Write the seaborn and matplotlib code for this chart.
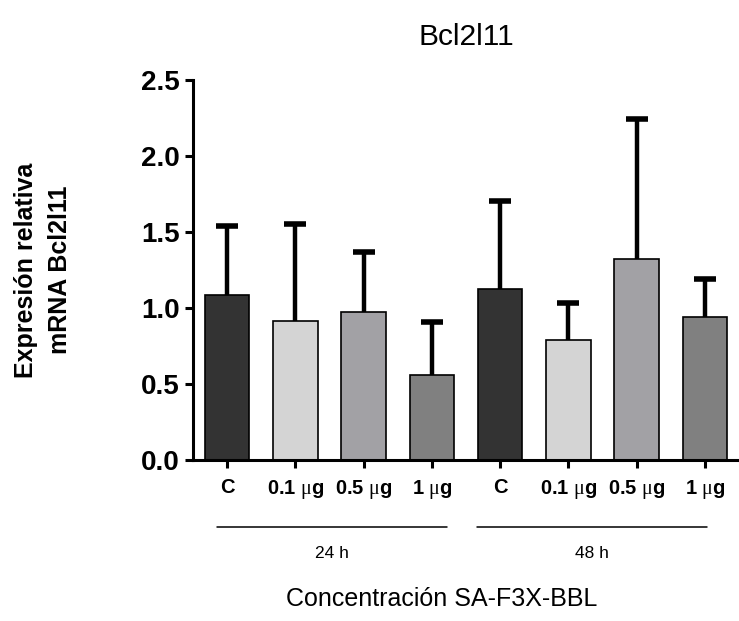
import numpy as np
import pandas as pd
import seaborn as sns
import matplotlib.pyplot as plt
from matplotlib import transforms

# data
groups = ["24 h", "48 h"]
doses = ["C", "0.1 $\\mathrm{\\mu}$g", "0.5 $\\mathrm{\\mu}$g", "1 $\\mathrm{\\mu}$g"]
means = [1.085, 0.914, 0.974, 0.557, 1.123, 0.792, 1.320, 0.941]
sds = [0.455, 0.640, 0.394, 0.353, 0.583, 0.241, 0.925, 0.250]
bar_colors = ["#333333", "#d4d4d4", "#a2a1a5", "#808080"] * 2

sns.set_style("ticks")
plt.rcParams['font.family'] = ['Liberation Sans', 'DejaVu Sans']
plt.rcParams['mathtext.fontset'] = 'custom'
plt.rcParams['mathtext.rm'] = 'Liberation Serif'
plt.rcParams['text.color'] = 'black'
plt.rcParams['axes.labelcolor'] = 'black'
plt.rcParams['xtick.color'] = 'black'
plt.rcParams['ytick.color'] = 'black'

df = pd.DataFrame({
    "cond": [g + " " + d for g in groups for d in doses],
    "mean": means,
})

fig = plt.figure(figsize=(7.39, 6.21), dpi=100)
ax = fig.add_axes([193 / 739, 161 / 621, 546 / 739, 380 / 621])

sns.barplot(data=df, x="cond", y="mean", hue="cond", palette=bar_colors,
            legend=False, width=0.65, edgecolor="black", linewidth=1.2,
            saturation=1, ax=ax)

# upper error bars only, no cap at the bar top
x = np.arange(len(means))
tops = np.array(means) + np.array(sds)
ax.vlines(x, means, tops, color="black", lw=3.2, zorder=5)
ax.hlines(tops, x - 0.16, x + 0.16, color="black", lw=4.0, zorder=5)

ax.set_xlim(-0.5, 7.5)
ax.set_ylim(0, 2.5)
ax.set_yticks([0, 0.5, 1.0, 1.5, 2.0, 2.5])
ax.set_yticklabels(["0.0", "0.5", "1.0", "1.5", "2.0", "2.5"],
                   fontsize=20, fontweight="bold")
ax.set_xticks(x)
ax.set_xticklabels(doses * 2, fontsize=14.5, fontweight="bold")
ax.tick_params(axis="both", width=2.2, length=6, direction="out", color="black",
               labelcolor="black")
ax.tick_params(axis="x", pad=7)
for s in ["left", "bottom"]:
    ax.spines[s].set_linewidth(2.2)
    ax.spines[s].set_color("black")
sns.despine(ax=ax)
ax.set_xlabel("")
ax.set_ylabel("Expresión relativa\nmRNA Bcl2l11", fontsize=18, fontweight="bold",
              labelpad=50, linespacing=1.5)
ax.set_title("Bcl2l11", fontsize=21.5, pad=25)

# group brackets under the ticks
trans = transforms.blended_transform_factory(ax.transData, ax.transAxes)
spans = [(-0.15, 3.22), (3.66, 7.03)]
for (a, b), g in zip(spans, groups):
    ax.plot([a, b], [-0.176, -0.176], color="black", lw=1.1,
            transform=trans, clip_on=False)
    ax.text((a + b) / 2, -0.245, g, transform=trans, ha="center", va="center",
            fontsize=12.5)

fig.text(442 / 739, (621 - 599) / 621, "Concentración SA-F3X-BBL",
         ha="center", va="center", fontsize=18)

fig.savefig("out.png", dpi=100)
